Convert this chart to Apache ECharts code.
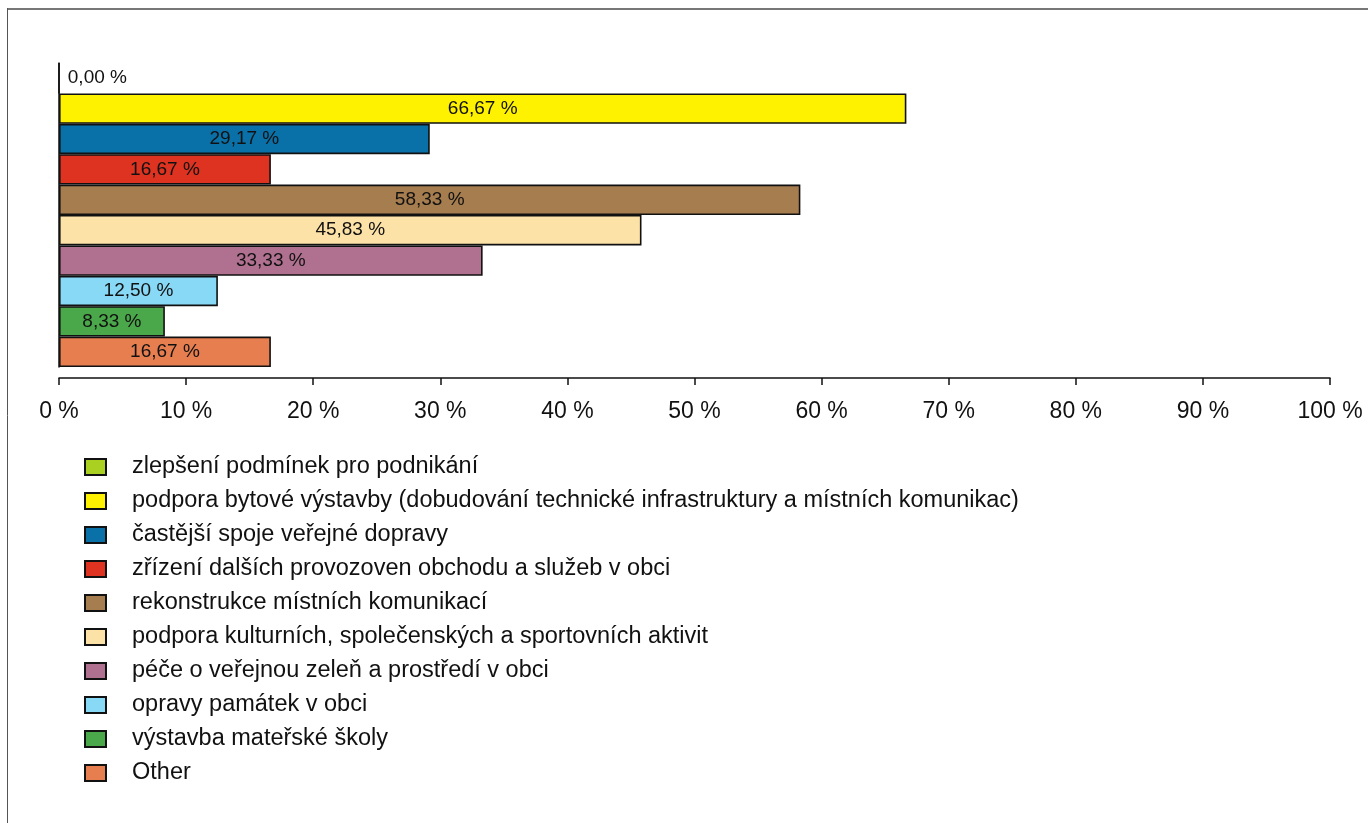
<!DOCTYPE html>
<html><head><meta charset="utf-8">
<script src="https://cdn.jsdelivr.net/npm/echarts@6/dist/echarts.min.js"></script>
<style>html,body{margin:0;padding:0;background:#fff}#c{width:1368px;height:823px}</style>
</head><body><div id="c"></div>
<script>
const categories = [
  "zlepšení podmínek pro podnikání",
  "podpora bytové výstavby (dobudování technické infrastruktury a místních komunikac)",
  "častější spoje veřejné dopravy",
  "zřízení dalších provozoven obchodu a služeb v obci",
  "rekonstrukce místních komunikací",
  "podpora kulturních, společenských a sportovních aktivit",
  "péče o veřejnou zeleň a prostředí v obci",
  "opravy památek v obci",
  "výstavba mateřské školy",
  "Other"
];
const values = [0.00, 66.67, 29.17, 16.67, 58.33, 45.83, 33.33, 12.50, 8.33, 16.67];
const colors = ["#aad022", "#fff200", "#0a70a8", "#dd3320", "#a67d4f", "#fde2a8", "#b07090", "#88d9f5", "#4aa74a", "#e67e50"];
const xTicks = [0, 10, 20, 30, 40, 50, 60, 70, 80, 90, 100];

const FONT = "'Liberation Sans', Arial, Helvetica, sans-serif";
const fmt = v => v.toFixed(2).replace('.', ',') + ' %';

const series = categories.map((name, i) => ({
  name: name,
  type: 'bar',
  stack: 'all',
  barWidth: '100%',
  data: categories.map((c, j) => j === i ? values[i] : '-'),
  itemStyle: { color: colors[i], borderColor: '#111', borderWidth: 1.6 },
  label: {
    show: true,
    position: values[i] === 0 ? 'right' : 'inside',
    distance: 8,
    formatter: p => fmt(p.value),
    color: '#111',
    fontFamily: FONT,
    fontSize: 19
  },
  emphasis: { disabled: true }
}));

const chart = echarts.init(document.getElementById('c'), null, { renderer: 'canvas' });
chart.setOption({
  animation: false,
  backgroundColor: '#fff',
  textStyle: { fontFamily: FONT },
  graphic: [
    { type: 'line', shape: { x1: 7, y1: 9, x2: 1368, y2: 9 }, style: { stroke: '#777', lineWidth: 2 } },
    { type: 'line', shape: { x1: 7.5, y1: 8, x2: 7.5, y2: 823 }, style: { stroke: '#555', lineWidth: 1 } }
  ],
  grid: { left: 59, right: 38, top: 63, bottom: 456, containLabel: false },
  xAxis: {
    type: 'value', min: 0, max: 100, interval: 10,
    offset: 11,
    axisLine: { show: true, lineStyle: { color: '#111', width: 1.5 } },
    axisTick: { show: true, length: 7, lineStyle: { color: '#111', width: 1.5 } },
    splitLine: { show: false },
    axisLabel: {
      formatter: v => xTicks.includes(v) ? v + ' %' : '',
      color: '#111', fontSize: 23, fontFamily: FONT, margin: 22
    }
  },
  yAxis: {
    type: 'category', data: categories, inverse: true,
    axisLine: { show: true, lineStyle: { color: '#111', width: 1.5 } },
    axisTick: { show: false },
    axisLabel: { show: false }
  },
  legend: {
    orient: 'vertical',
    left: 79, top: 450,
    itemWidth: 21, itemHeight: 16,
    itemGap: 10,
    icon: 'rect',
    data: categories,
    textStyle: { color: '#111', fontSize: 23.5, fontFamily: FONT, lineHeight: 23.5, padding: [0, 0, 0, 21] },
    selectedMode: false
  },
  series: series
});
</script></body></html>
